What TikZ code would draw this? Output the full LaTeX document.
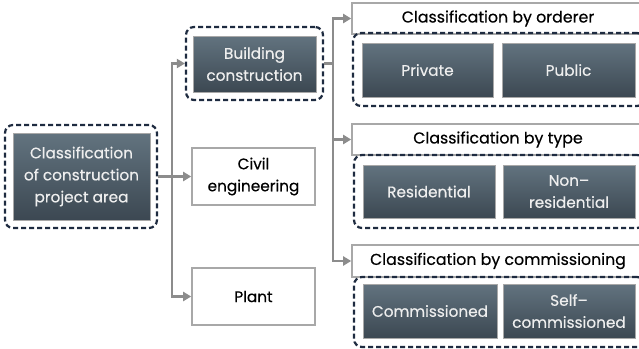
\documentclass[tikz,border=0pt]{standalone}
\usepackage{fontspec}
\setmainfont{Poppins}[FakeBold=0.4]
\usetikzlibrary{arrows.meta}
\definecolor{conncol}{HTML}{8C8C8C}
\definecolor{framecol}{HTML}{A8A8A8}
\definecolor{navy}{HTML}{1E2B40}
\definecolor{darktop}{HTML}{62737F}
\definecolor{darkbot}{HTML}{3C4852}
\definecolor{lighttext}{HTML}{EEEEEE}
\tikzset{
  darkbox/.style={draw=framecol, line width=0.8pt, top color=darktop, bottom color=darkbot,
    text=lighttext, align=center, inner sep=0pt, font=\fontsize{15.3}{22}\selectfont},
  whitebox/.style={draw=framecol, line width=1.6pt, fill=white, text=black,
    align=center, inner sep=0pt, font=\fontsize{15.3}{22}\selectfont},
  titlebox/.style={whitebox, font=\fontsize{15.8}{22}\selectfont},
  dashgroup/.style={draw=navy, line width=2.2pt, dash pattern=on 5pt off 3pt,
    rounded corners=8pt, inner sep=0pt},
  conn/.style={draw=conncol, line width=2.6pt, -{Triangle[length=8pt,width=9pt]}},
  trunk/.style={draw=conncol, line width=2.6pt}
}
\begin{document}
\begin{tikzpicture}[x=1pt,y=-1pt]
\clip (0,0) rectangle (639,348);
\fill[white] (0,0) rectangle (639,348);

% root of the classification
\node[dashgroup, minimum width=152, minimum height=103] (rootg) at (81,176.5) {};
\node[darkbox, minimum width=137, minimum height=87] (root) at (81.5,176.5)
  {Classification\\of construction\\project area};

% project areas
\node[dashgroup, minimum width=137, minimum height=73] (bldgg) at (254.5,63.5) {};
\node[darkbox, minimum width=123, minimum height=56] (bldg) at (254.5,64)
  {Building\\construction};
\node[whitebox, minimum width=123, minimum height=57] (civil) at (253.5,176.5)
  {Civil\\engineering};
\node[whitebox, minimum width=123, minimum height=57] (plant) at (253.5,296.5)
  {Plant};

% classification groups
\node[titlebox, minimum width=292, minimum height=31] (t1) at (498,18.5)
  {Classification by orderer};
\node[dashgroup, minimum width=292, minimum height=73] (g1) at (499,69.5) {};
\node[darkbox, minimum width=131, minimum height=54] (private) at (427.5,70) {Private};
\node[darkbox, minimum width=133, minimum height=54] (public) at (568.5,70) {Public};

\node[titlebox, minimum width=292, minimum height=31] (t2) at (498,139.5)
  {Classification by type};
\node[dashgroup, minimum width=291, minimum height=73] (g2) at (499.5,191.5) {};
\node[darkbox, minimum width=132, minimum height=53] (resid) at (429,191.5) {Residential};
\node[darkbox, minimum width=132, minimum height=53] (nonres) at (569,191.5)
  {Non–\\residential};

\node[titlebox, minimum width=292, minimum height=32] (t3) at (498,261)
  {Classification by commissioning};
\node[dashgroup, minimum width=291, minimum height=70] (g3) at (499.5,312) {};
\node[darkbox, minimum width=134, minimum height=54] (comm) at (430,311) {Commissioned};
\node[darkbox, minimum width=132, minimum height=54] (selfc) at (569,311)
  {Self–\\commissioned};

% connectors from the root
\coordinate (ta) at (172,176.5);
\draw[trunk] (rootg.east) -- (ta);
\draw[conn] (ta) |- (bldgg.west);
\draw[conn] (ta) -- (civil.west);
\draw[conn] (ta) |- (plant.west);

% connectors from building construction
\coordinate (tb) at (333,63.5);
\draw[trunk] (bldgg.east) -- (tb);
\draw[conn] (tb) |- (t1.west);
\draw[conn] (tb) |- (t2.west);
\draw[conn] (tb) |- (t3.west);
\end{tikzpicture}
\end{document}
